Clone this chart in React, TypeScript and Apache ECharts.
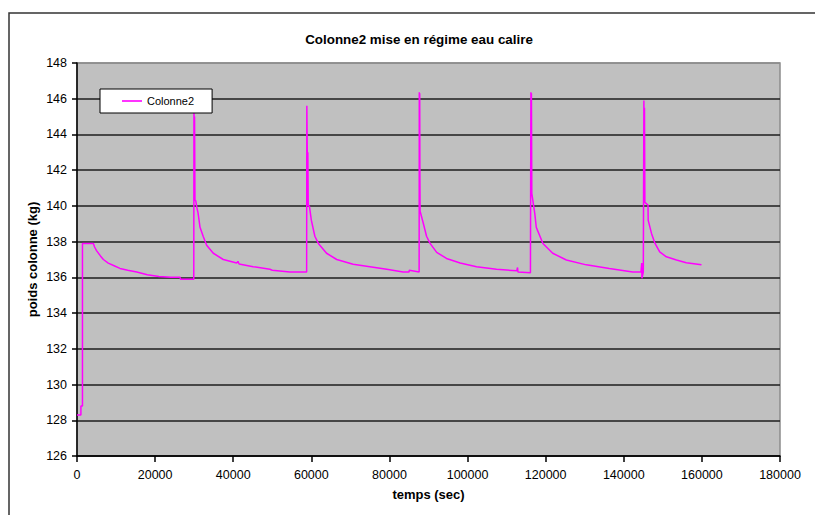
import React, { useEffect, useRef } from "react";
import * as echarts from "echarts";

const FONT = "'Liberation Sans', Arial, Helvetica, sans-serif";

const titre = "Colonne2 mise en régime eau calire";
const nomSerie = "Colonne2";
const nomX = "temps (sec)";
const nomY = "poids colonne (kg)";

// Démarrage
const temps0 = [0, 1000, 1000, 1400, 1400, 4200, 4500, 5000, 6000, 6750, 8000, 9500, 11000, 13000, 15300, 18000, 21000, 24000, 26400, 26500, 29900];
const poids0 = [128.3, 128.3, 128.8, 128.8, 137.9, 137.9, 137.7, 137.5, 137.2, 137.0, 136.8, 136.65, 136.5, 136.4, 136.3, 136.15, 136.05, 136.0, 136.0, 135.9, 135.9];

// Cycle 1
const temps1 = [29950, 30050, 30100, 30200, 30400, 30700, 31000, 31500, 32300, 33200, 34900, 37450, 40900, 41200, 41500, 45100, 49400, 50000, 54500, 58800];
const poids1 = [146.2, 140.4, 145.0, 140.3, 140.3, 139.9, 139.6, 138.8, 138.3, 137.8, 137.35, 137.0, 136.8, 136.9, 136.75, 136.6, 136.45, 136.4, 136.3, 136.3];

// Cycle 2
const temps2 = [58850, 58950, 59000, 59100, 59200, 59500, 60000, 60900, 61800, 63900, 66500, 70700, 75000, 79300, 83500, 85000, 85100, 87600];
const poids2 = [145.6, 143.1, 140.0, 143.0, 140.0, 140.0, 139.2, 138.3, 137.9, 137.35, 137.0, 136.73, 136.6, 136.45, 136.3, 136.3, 136.4, 136.3];

// Cycle 3
const temps3 = [87640, 87700, 87750, 87800, 87850, 88700, 89500, 90400, 92100, 94600, 98100, 102300, 107400, 112600, 112800, 112900, 113000, 116100];
const poids3 = [146.36, 141.5, 146.3, 141.5, 139.7, 139.0, 138.3, 137.9, 137.4, 137.06, 136.8, 136.6, 136.45, 136.37, 136.55, 136.3, 136.3, 136.26];

// Cycle 4
const temps4 = [116220, 116300, 116350, 116450, 117200, 117600, 119300, 121800, 125300, 130400, 136300, 142300, 144400, 144600, 144650, 145000];
const poids4 = [146.36, 140.7, 146.3, 140.7, 139.6, 138.8, 137.9, 137.35, 136.97, 136.7, 136.5, 136.3, 136.3, 136.8, 135.95, 136.3];

// Cycle 5
const temps5 = [145150, 145250, 145300, 145400, 146200, 146250, 147100, 148000, 149200, 150900, 153500, 156000, 159900];
const poids5 = [145.9, 142.9, 145.5, 140.2, 140.05, 139.2, 138.46, 137.9, 137.43, 137.15, 136.97, 136.82, 136.7];

const tempsTous = [temps0, temps1, temps2, temps3, temps4, temps5];
const poidsTous = [poids0, poids1, poids2, poids3, poids4, poids5];

const xMin = 0;
const xMax = 180000;
const xPas = 20000;
const yMin = 126;
const yMax = 148;
const yPas = 2;

export default function App() {
  const ref = useRef<HTMLDivElement>(null);

  useEffect(() => {
    if (!ref.current) return;
    const chart = echarts.init(ref.current, null, { renderer: "svg" });

    const data: [number, number][] = [];
    tempsTous.forEach((ts, i) => {
      ts.forEach((t, j) => data.push([t, poidsTous[i][j]]));
    });

    const nGrid = Math.round((yMax - yMin) / yPas) + 1;
    const gridColors: string[] = [];
    for (let i = 0; i < nGrid; i++) gridColors.push(i === nGrid - 1 ? "#8c8c8c" : "#1e1e1e");

    chart.setOption({
      animation: false,
      backgroundColor: "#ffffff",
      title: {
        text: titre,
        left: 419,
        top: 33,
        padding: 0,
        textAlign: "center",
        textStyle: { fontFamily: FONT, fontSize: 13.4, fontWeight: "bold", color: "#000" },
      },
      graphic: [
        {
          type: "rect",
          silent: true,
          z: -10,
          shape: { x: 9, y: 13, width: 900, height: 600 },
          style: { fill: "none", stroke: "#333", lineWidth: 1.5 },
        },
      ],
      legend: {
        left: 100,
        top: 89,
        padding: [6, 18, 6, 22],
        icon: "rect",
        itemWidth: 20,
        itemHeight: 1.6,
        itemGap: 0,
        backgroundColor: "#ffffff",
        borderColor: "#000",
        borderWidth: 1,
        textStyle: { fontFamily: FONT, fontSize: 11, color: "#000", lineHeight: 12 },
        data: [nomSerie],
      },
      grid: {
        left: 77,
        right: 35,
        top: 63,
        bottom: 59,
        show: true,
        backgroundColor: "#c0c0c0",
        borderColor: "#8c8c8c",
        borderWidth: 1.5,
      },
      xAxis: {
        type: "value",
        min: xMin,
        max: xMax,
        interval: xPas,
        name: nomX,
        nameLocation: "middle",
        nameGap: 32,
        nameMoveOverlap: false,
        nameTextStyle: { fontFamily: FONT, fontSize: 13, fontWeight: "bold", color: "#000" },
        axisLine: { show: true, lineStyle: { color: "#000", width: 1.5 } },
        axisTick: { show: true, length: 6, lineStyle: { color: "#000", width: 1.5 } },
        axisLabel: {
          margin: 12,
          fontFamily: FONT,
          fontSize: 12.5,
          color: "#000",
          formatter: (v: number) => String(v),
        },
        splitLine: { show: false },
      },
      yAxis: {
        type: "value",
        min: yMin,
        max: yMax,
        interval: yPas,
        name: nomY,
        nameLocation: "middle",
        nameGap: 38,
        nameMoveOverlap: false,
        nameRotate: 90,
        nameTextStyle: { fontFamily: FONT, fontSize: 13, fontWeight: "bold", color: "#000" },
        axisLine: { show: true, lineStyle: { color: "#000", width: 1.5 } },
        axisTick: { show: true, length: 5, lineStyle: { color: "#000", width: 1.5 } },
        axisLabel: { margin: 10, fontFamily: FONT, fontSize: 12.5, color: "#000" },
        splitLine: { show: true, lineStyle: { color: gridColors, width: 1.6 } },
      },
      series: [
        {
          name: nomSerie,
          type: "line",
          symbol: "none",
          data,
          lineStyle: { color: "#ff00ff", width: 1.5 },
          itemStyle: { color: "#ff00ff" },
          z: 2,
        },
      ],
    });

    return () => chart.dispose();
  }, []);

  return (
    <div
      ref={ref}
      style={{ width: 815, height: 515, position: "fixed", left: 0, top: 0 }}
    />
  );
}
